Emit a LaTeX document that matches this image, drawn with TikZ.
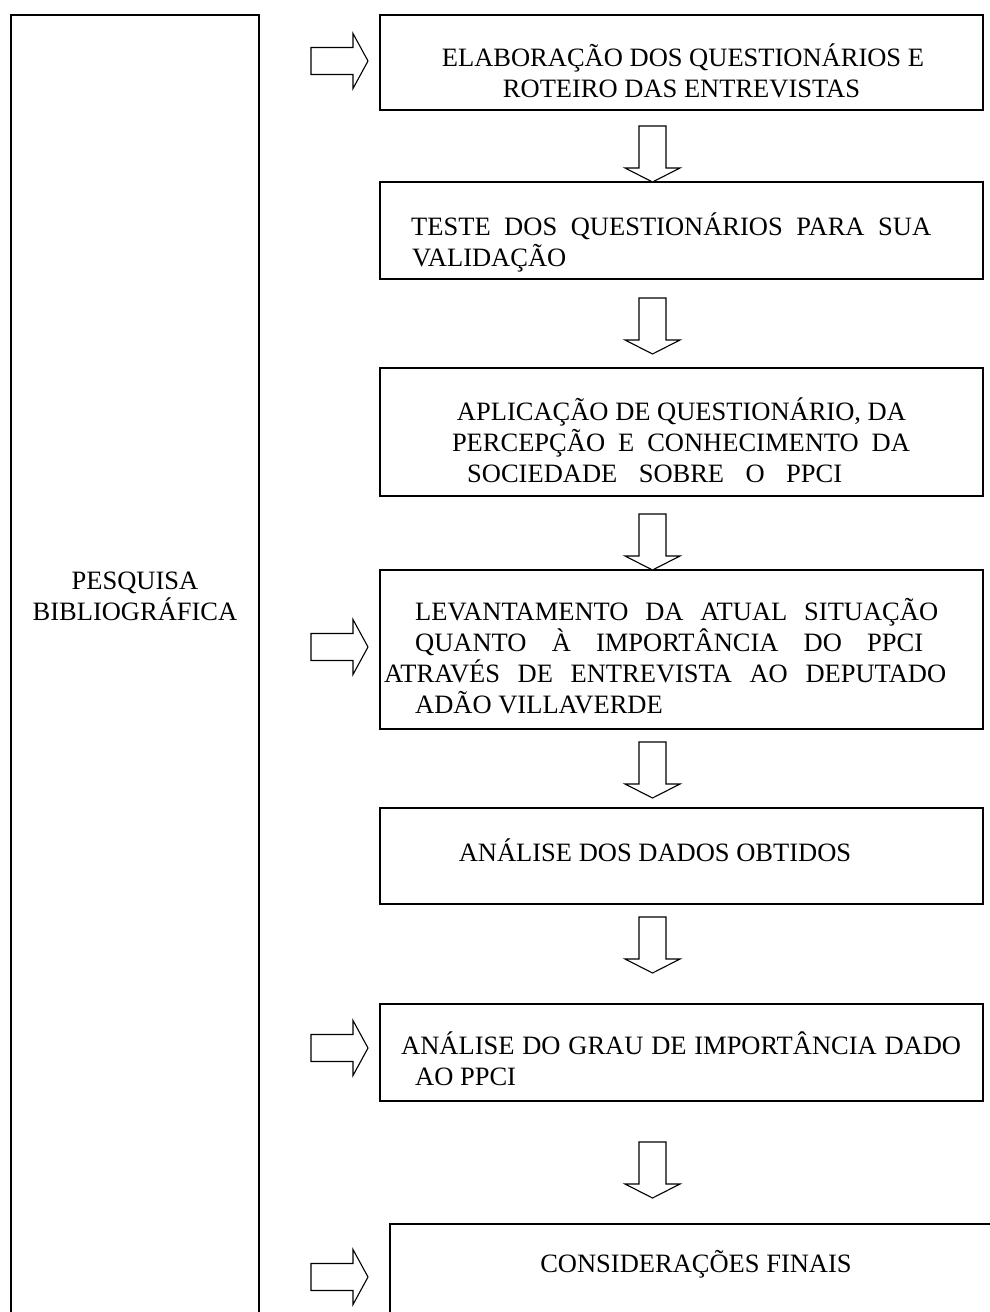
\documentclass[tikz,border=0pt]{standalone}
\usepackage{fontspec}
\setmainfont{Liberation Serif}
\newcommand{\jline}[2]{\makebox[#1pt][s]{#2}}
\begin{document}
\begin{tikzpicture}[x=1pt,y=-1pt,
  box/.style={draw,line width=1.5pt,rectangle,minimum width=603pt,inner sep=0pt},
  frame/.style={line width=1.5pt},
  arr/.style={draw,line width=1.1pt,line join=miter,fill=white},
  txt/.style={inner sep=0pt,font=\fontsize{26.5}{31}\selectfont},
  darrow/.pic={\draw[arr] (-13.5,0) -- (13.5,0) -- (13.5,42) -- (27.5,42) -- (0,56) -- (-27.5,42) -- (-13.5,42) -- cycle;},
  rarrow/.pic={\draw[arr] (0,-13.5) -- (42,-13.5) -- (42,-27.5) -- (57,0) -- (42,27.5) -- (42,13.5) -- (0,13.5) -- cycle;}
]
\useasboundingbox (0,0) rectangle (989,1312);
\fill[white] (0,0) rectangle (989,1312);

% left frame
\coordinate (lb) at (11,1320);
\coordinate (lt) at (11,15);
\coordinate (rt) at (259,15);
\coordinate (rb) at (259,1320);
\draw[frame] (lb) -- (lt) -- (rt) -- (rb);
\node[txt,anchor=base] (p1) at (135,589) {PESQUISA};
\node[txt,anchor=base] (p2) at (135,620) {BIBLIOGRÁFICA};

% boxes
\node[box,minimum height=95pt] (b1) at (681.5,62.5) {};
\node[box,minimum height=97pt] (b2) at (681.5,230.5) {};
\node[box,minimum height=128pt] (b3) at (681.5,432) {};
\node[box,minimum height=159pt] (b4) at (681.5,649.5) {};
\node[box,minimum height=96pt] (b5) at (681.5,856) {};
\node[box,minimum height=97pt] (b6) at (681.5,1052.5) {};
\coordinate (f1) at (390,1320);
\coordinate (f2) at (390,1224);
\coordinate (f3) at (995,1224);
\draw[frame] (f1) -- (f2) -- (f3);

% texts
\node[txt,anchor=base] (t11) at (683,66) {ELABORAÇÃO DOS QUESTIONÁRIOS E};
\node[txt,anchor=base] (t12) at (681.5,97) {ROTEIRO DAS ENTREVISTAS};
\node[txt,anchor=base west] (t21) at (411,235) {\jline{520}{TESTE DOS QUESTIONÁRIOS PARA SUA}};
\node[txt,anchor=base west] (t22) at (412,266) {VALIDAÇÃO};
\node[txt,anchor=base] (t31) at (681.5,420) {APLICAÇÃO DE QUESTIONÁRIO, DA};
\node[txt,anchor=base] (t32) at (681,451) {\jline{458}{PERCEPÇÃO E CONHECIMENTO DA}};
\node[txt,anchor=base west] (t33) at (467,482) {\jline{375}{SOCIEDADE SOBRE O PPCI}};
\node[txt,anchor=base west] (t41) at (415,620) {\jline{523}{LEVANTAMENTO DA ATUAL SITUAÇÃO}};
\node[txt,anchor=base west] (t42) at (415,651) {\jline{508}{QUANTO À IMPORTÂNCIA DO PPCI}};
\node[txt,anchor=base west] (t43) at (384,682) {\jline{562}{ATRAVÉS DE ENTREVISTA AO DEPUTADO}};
\node[txt,anchor=base west] (t44) at (415,713) {ADÃO VILLAVERDE};
\node[txt,anchor=base] (t51) at (655,861) {ANÁLISE DOS DADOS OBTIDOS};
\node[txt,anchor=base west] (t61) at (401,1054) {\jline{560}{ANÁLISE DO GRAU DE IMPORTÂNCIA DADO}};
\node[txt,anchor=base west] (t62) at (415,1085) {AO PPCI};
\node[txt,anchor=base] (t71) at (696,1272) {CONSIDERAÇÕES FINAIS};

% down arrows
\pic at (652.5,126) {darrow};
\pic at (652.5,298) {darrow};
\pic at (652.5,514) {darrow};
\pic at (652.5,742) {darrow};
\pic at (652.5,917) {darrow};
\pic at (652.5,1142) {darrow};

% right arrows
\pic at (311,61) {rarrow};
\pic at (311,647) {rarrow};
\pic at (311,1048) {rarrow};
\pic at (311,1277) {rarrow};
\end{tikzpicture}
\end{document}
